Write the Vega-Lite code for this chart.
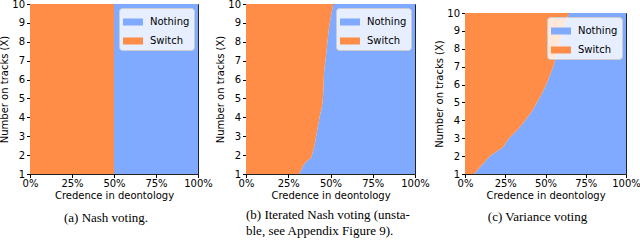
{
  "$schema": "https://vega.github.io/schema/vega-lite/v6.json",
  "padding": {"left": -1, "top": -2, "right": 0, "bottom": 0},
  "background": "white",
  "config": {
    "view": {"stroke": "#222222", "strokeWidth": 1},
    "axis": {"labelFont": "DejaVu Sans", "labelFontSize": 10, "labelColor": "black", "titleFont": "DejaVu Sans", "titleFontSize": 10, "titleFontWeight": "normal", "titleColor": "black", "tickColor": "black", "tickSize": 3.5, "domain": false, "grid": false, "labelFlush": false, "labelOverlap": false, "tickCount": 20},
    "axisX": {"labelPadding": 1, "titlePadding": 2},
    "axisY": {"labelPadding": 2, "titlePadding": 2},
    "legend": {"labelFont": "DejaVu Sans", "labelFontSize": 10, "labelColor": "black", "symbolType": "M-1,-0.35H1V0.35H-1Z", "symbolSize": 400, "symbolStrokeWidth": 0, "symbolOpacity": 1, "labelOffset": 7, "rowPadding": 4, "padding": 4, "fillColor": "rgba(255,255,255,0.8)", "strokeColor": "#cccccc", "cornerRadius": 3, "orient": "top-right", "offset": 4},
    "title": {"font": "Liberation Serif", "fontSize": 13, "fontWeight": "normal", "color": "black"}
  },
  "datasets": {
    "a": [{"y": 1, "b": 0.5}, {"y": 10, "b": 0.5}],
    "b": [
      {"y": 1.0, "b": 0.315}, {"y": 1.2, "b": 0.325}, {"y": 1.4, "b": 0.335}, {"y": 1.65, "b": 0.355},
      {"y": 1.85, "b": 0.385}, {"y": 2.0, "b": 0.39}, {"y": 2.5, "b": 0.405}, {"y": 3.0, "b": 0.415},
      {"y": 3.5, "b": 0.425}, {"y": 4.0, "b": 0.435}, {"y": 4.5, "b": 0.448}, {"y": 5.0, "b": 0.455},
      {"y": 5.5, "b": 0.458}, {"y": 6.0, "b": 0.46}, {"y": 6.5, "b": 0.463}, {"y": 7.0, "b": 0.47},
      {"y": 7.5, "b": 0.476}, {"y": 8.0, "b": 0.482}, {"y": 8.5, "b": 0.488}, {"y": 9.0, "b": 0.496},
      {"y": 9.5, "b": 0.505}, {"y": 10.0, "b": 0.517}
    ],
    "c": [
      {"y": 1.0, "b": 0.055}, {"y": 1.5, "b": 0.105}, {"y": 2.0, "b": 0.155}, {"y": 2.5, "b": 0.235},
      {"y": 3.0, "b": 0.273}, {"y": 3.5, "b": 0.33}, {"y": 4.0, "b": 0.375}, {"y": 4.5, "b": 0.415},
      {"y": 5.0, "b": 0.447}, {"y": 5.5, "b": 0.478}, {"y": 6.0, "b": 0.505}, {"y": 6.5, "b": 0.527},
      {"y": 7.0, "b": 0.548}, {"y": 7.5, "b": 0.563}, {"y": 8.0, "b": 0.577}, {"y": 8.5, "b": 0.592},
      {"y": 9.0, "b": 0.605}, {"y": 9.5, "b": 0.625}, {"y": 10.0, "b": 0.645}
    ]
  },
  "bounds": "flush",
  "spacing": 48,
  "resolve": {"legend": {"color": "independent"}},
  "hconcat": [
    {
      "width": 168, "height": 170,
      "data": {"name": "a"},
      "title": {"text": "(a) Nash voting.", "orient": "bottom", "anchor": "middle", "frame": "bounds", "offset": 11},
      "layer": [
        {"mark": {"type": "area", "orient": "horizontal"},
         "encoding": {
           "y": {"field": "y", "type": "quantitative", "scale": {"domain": [1, 10], "nice": false, "zero": false}, "axis": {"values": [1,2,3,4,5,6,7,8,9,10], "format": "d", "tickCount": 20, "labelOverlap": false, "title": "Number on tracks (X)"}},
           "x": {"field": "b", "type": "quantitative", "scale": {"domain": [0, 1], "nice": false}, "axis": {"values": [0, 0.25, 0.5, 0.75, 1], "tickCount": 20, "labelOverlap": false, "format": ".0%", "title": "Credence in deontology"}},
           "x2": {"datum": 1},
           "color": {"datum": "Nothing", "scale": {"domain": ["Nothing", "Switch"], "range": ["#80aaff", "#ff8c47"]}, "legend": {"title": null}}
         }},
        {"mark": {"type": "area", "orient": "horizontal"},
         "encoding": {
           "y": {"field": "y", "type": "quantitative"},
           "x": {"field": "b", "type": "quantitative"},
           "x2": {"datum": 0},
           "color": {"datum": "Switch"}
         }}
      ]
    },
    {
      "bounds": "flush",
      "spacing": 50,
      "resolve": {"legend": {"color": "independent"}},
      "hconcat": [
        {
          "width": 169, "height": 170,
          "data": {"name": "b"},
          "title": {"text": ["(b) Iterated Nash voting (unsta-", "ble, see Appendix Figure 9)."], "orient": "bottom", "anchor": "start", "frame": "group", "offset": 8, "lineHeight": 16},
          "layer": [
            {"mark": {"type": "area", "orient": "horizontal"},
             "encoding": {
               "y": {"field": "y", "type": "quantitative", "scale": {"domain": [1, 10], "nice": false, "zero": false}, "axis": {"values": [1,2,3,4,5,6,7,8,9,10], "format": "d", "tickCount": 20, "labelOverlap": false, "title": "Number on tracks (X)"}},
               "x": {"field": "b", "type": "quantitative", "scale": {"domain": [0, 1], "nice": false}, "axis": {"values": [0, 0.25, 0.5, 0.75, 1], "tickCount": 20, "labelOverlap": false, "format": ".0%", "title": "Credence in deontology"}},
               "x2": {"datum": 1},
               "color": {"datum": "Nothing", "scale": {"domain": ["Nothing", "Switch"], "range": ["#80aaff", "#ff8c47"]}, "legend": {"title": null}}
             }},
            {"mark": {"type": "area", "orient": "horizontal"},
             "encoding": {
               "y": {"field": "y", "type": "quantitative"},
               "x": {"field": "b", "type": "quantitative"},
               "x2": {"datum": 0},
               "color": {"datum": "Switch"}
             }}
          ]
        },
        {
          "bounds": "flush",
          "spacing": 0,
          "resolve": {"legend": {"color": "independent"}},
          "vconcat": [
            {"width": 161, "height": 9, "data": {"values": [{"v": 0}]}, "mark": {"type": "point", "opacity": 0}, "encoding": {}, "view": {"stroke": null}},
            {
              "width": 161, "height": 161,
              "data": {"name": "c"},
              "title": {"text": "(c) Variance voting", "orient": "bottom", "anchor": "middle", "frame": "bounds", "offset": 10},
              "layer": [
                {"mark": {"type": "area", "orient": "horizontal"},
                 "encoding": {
                   "y": {"field": "y", "type": "quantitative", "scale": {"domain": [1, 10], "nice": false, "zero": false}, "axis": {"values": [1,2,3,4,5,6,7,8,9,10], "format": "d", "tickCount": 20, "labelOverlap": false, "title": "Number on tracks (X)"}},
                   "x": {"field": "b", "type": "quantitative", "scale": {"domain": [0, 1], "nice": false}, "axis": {"values": [0, 0.25, 0.5, 0.75, 1], "tickCount": 20, "labelOverlap": false, "format": ".0%", "title": "Credence in deontology"}},
                   "x2": {"datum": 1},
                   "color": {"datum": "Nothing", "scale": {"domain": ["Nothing", "Switch"], "range": ["#80aaff", "#ff8c47"]}, "legend": {"title": null}}
                 }},
                {"mark": {"type": "area", "orient": "horizontal"},
                 "encoding": {
                   "y": {"field": "y", "type": "quantitative"},
                   "x": {"field": "b", "type": "quantitative"},
                   "x2": {"datum": 0},
                   "color": {"datum": "Switch"}
                 }}
              ]
            }
          ]
        }
      ]
    }
  ]
}
